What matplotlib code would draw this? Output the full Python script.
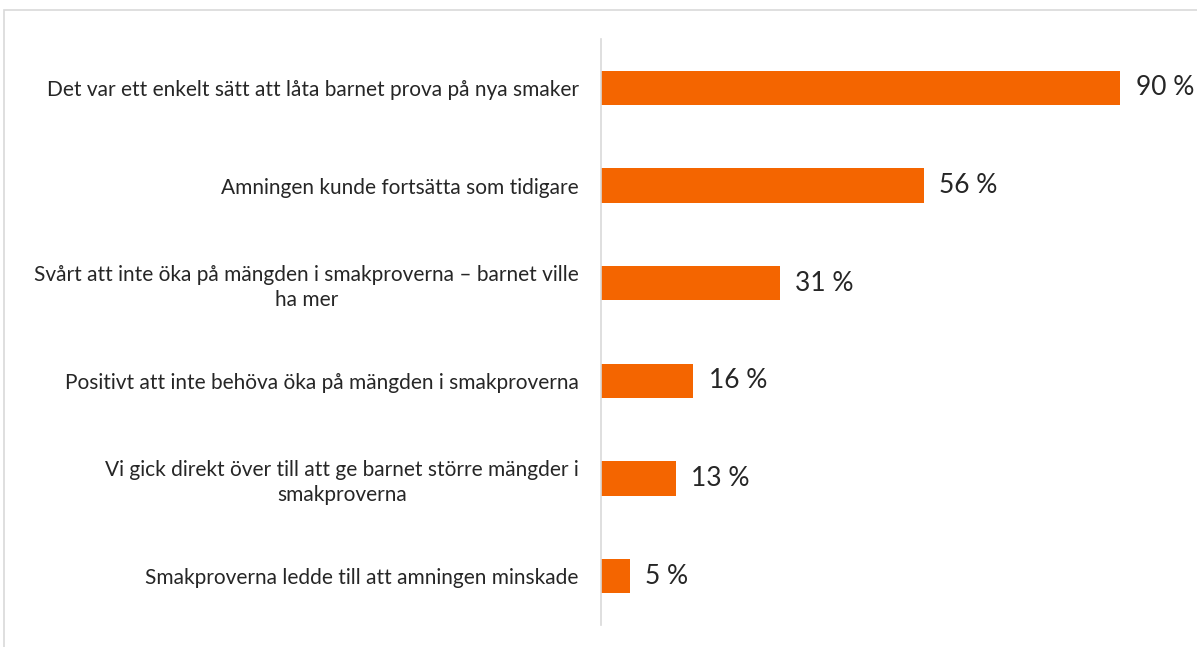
import matplotlib
matplotlib.use("Agg")
import matplotlib.pyplot as plt
from matplotlib.patches import Rectangle

categories = [
    "Det var ett enkelt sätt att låta barnet prova på nya smaker",
    "Amningen kunde fortsätta som tidigare",
    "Svårt att inte öka på mängden i smakproverna – barnet ville\nha mer",
    "Positivt att inte behöva öka på mängden i smakproverna",
    "Vi gick direkt över till att ge barnet större mängder i\nsmakproverna",
    "Smakproverna ledde till att amningen minskade",
]
values = [90, 56, 31, 16, 13, 5]
value_labels = ["90 %", "56 %", "31 %", "16 %", "13 %", "5 %"]

plt.rcParams['font.family'] = ['Lato', 'DejaVu Sans']

W, H = 1197, 647
fig = plt.figure(figsize=(W / 100, H / 100), dpi=100)
fig.patch.set_facecolor('white')

# outer frame
fig.patches.append(Rectangle((4 / W, -0.01), 1.02, 1 - 9.5 / H + 0.01, transform=fig.transFigure,
                             fill=False, edgecolor='#d9d9d9', linewidth=1.2))

ax = fig.add_axes([601 / W, 1 - 625 / H, (1178 - 601) / W, (625 - 39) / H])
y = list(range(len(categories)))
ax.barh(y, values, height=0.35, color='#F46500')
ax.set_xlim(0, 100)
ax.set_ylim(len(categories) - 0.5, -0.5)
ax.set_yticks(y)
ax.set_yticklabels(categories, fontsize=15, color='#262626', multialignment='center',
                   linespacing=1.3)
ax.tick_params(axis='y', length=0, pad=16)
ax.set_xticks([])
for s in ['top', 'right', 'bottom']:
    ax.spines[s].set_visible(False)
ax.spines['left'].set_color('#d9d9d9')
ax.spines['left'].set_linewidth(1.2)

for yi, v, lab in zip(y, values, value_labels):
    ax.annotate(lab, (v, yi), xytext=(11, 0), textcoords='offset points', va='center', ha='left',
                fontsize=19, color='#262626')

fig.savefig('out.png', dpi=100)
